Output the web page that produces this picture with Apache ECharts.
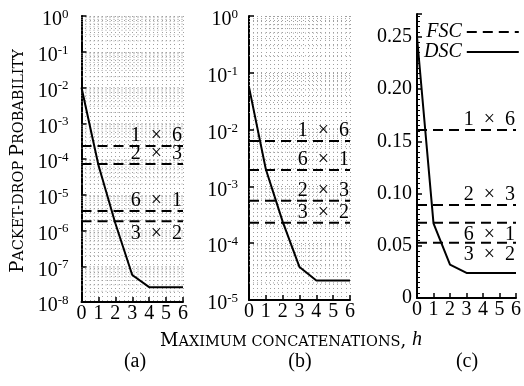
<!DOCTYPE html>
<html><head><meta charset="utf-8">
<script src="https://cdn.jsdelivr.net/npm/echarts@6/dist/echarts.min.js"></script>
<style>html,body{margin:0;padding:0;background:#fff}#c{width:524px;height:386px}</style>
</head><body><div id="c"></div>
<script>
// ---- data ----
const hops = [0, 1, 2, 3, 4, 5, 6];
const dscA = [1.0e-2, 6.8e-5, 1.6e-6, 5.7e-8, 2.6e-8, 2.6e-8, 2.6e-8];
const dscB = [5.6e-2, 2.0e-3, 2.4e-4, 3.8e-5, 2.2e-5, 2.2e-5, 2.2e-5];
const dscC = [0.25, 0.0715, 0.032, 0.024, 0.024, 0.024, 0.024];
const fscA = [2.3e-4, 7.2e-5, 3.5e-6, 1.8e-6];
const fscB = [6.3e-3, 1.94e-3, 5.6e-4, 2.3e-4];
const fscC = [0.161, 0.089, 0.072, 0.053];
const fscLabelsA = ['1 × 6', '2 × 3', '6 × 1', '3 × 2'];
const fscLabelsB = ['1 × 6', '6 × 1', '2 × 3', '3 × 2'];
const fscLabelsC = ['1 × 6', '2 × 3', '6 × 1', '3 × 2'];
const labelSideA = ['top', 'top', 'top', 'bottom'];
const labelSideB = ['top', 'top', 'top', 'top'];
const labelSideC = ['top', 'top', 'bottom', 'bottom'];
const xTicks = [0, 1, 2, 3, 4, 5, 6];

const SERIF = '"Liberation Serif", "Times New Roman", serif';
const TITLE = '"DejaVu Serif", serif';
const DOT = {type: [1, 3], color: '#a0a0a0', width: 1};

const chart = echarts.init(document.getElementById('c'), null, {renderer: 'canvas'});

const grids = [
  {left: 81.5, top: 16, width: 101.5, height: 286},
  {left: 249, top: 16, width: 101, height: 284},
  {left: 417, top: 14, width: 101.5, height: 284}
];

function xAxis(i) {
  return {
    type: 'value', gridIndex: i, min: xTicks[0], max: xTicks[xTicks.length - 1], interval: 1,
    axisLine: {lineStyle: {color: '#000', width: 2}},
    axisTick: {inside: true, length: 5, lineStyle: {color: '#000', width: 1.5}},
    axisLabel: {fontFamily: SERIF, fontSize: 20, color: '#000', margin: 2},
    splitLine: {show: i < 2, lineStyle: DOT},
    minorTick: {show: false, splitNumber: 4},
    minorSplitLine: {show: i < 2, lineStyle: DOT}
  };
}

function logY(i, min, margin) {
  return {
    type: 'log', logBase: 10, gridIndex: i, min: min, max: 1, interval: 1,
    axisLine: {show: true, lineStyle: {color: '#000', width: 2}},
    axisTick: {show: true, inside: true, length: 5, lineStyle: {color: '#000', width: 1.5}},
    splitLine: {show: true, lineStyle: DOT},
    axisLabel: {
      margin: margin, padding: [8, 0, 0, 0],
      formatter: v => '{b|10}{s|' + Math.round(Math.log10(v)) + '}',
      rich: {
        b: {fontFamily: SERIF, fontSize: 20, lineHeight: 24, color: '#000'},
        s: {fontFamily: SERIF, fontSize: 13, lineHeight: 13, verticalAlign: 'top', color: '#000'}
      }
    }
  };
}

// minor horizontal grid lines at 2..9 x 10^k (decoration only)
function gridSeries(i, minExp) {
  const d = [];
  for (let k = minExp; k < 0; k++) for (let m = 2; m <= 9; m++) {
    const v = m * Math.pow(10, k);
    d.push([xTicks[0], v], [xTicks[xTicks.length - 1], v], [xTicks[xTicks.length - 1], '-']);
  }
  return {
    type: 'line', xAxisIndex: i, yAxisIndex: i, data: d, silent: true, symbol: 'none',
    connectNulls: false, lineStyle: DOT, z: 1
  };
}

function fscSeries(i, vals, labels, sides) {
  return vals.map((v, k) => ({
    name: 'FSC', type: 'line', xAxisIndex: i, yAxisIndex: i, silent: true,
    symbol: 'circle', symbolSize: 0.1, showSymbol: true,
    itemStyle: {color: '#000'},
    lineStyle: {color: '#000', width: 2, type: [10, 6]}, z: 3,
    data: [
      [xTicks[0], v],
      {value: [xTicks[xTicks.length - 1], v],
        label: {show: true, formatter: labels[k].replace(/ /g, '  '), position: 'left', distance: 1,
          offset: [0, sides[k] === 'top' ? -10 : 12],
          fontFamily: SERIF, fontSize: 20, color: '#000'}}
    ]
  }));
}

function dscSeries(i, vals) {
  return {
    name: 'DSC', type: 'line', xAxisIndex: i, yAxisIndex: i, symbol: 'none',
    itemStyle: {color: '#000'},
    lineStyle: {color: '#000', width: 2}, z: 5,
    data: hops.map((h, k) => [h, vals[k]])
  };
}

const smallCaps = {
  B: {fontFamily: TITLE, fontSize: 18, lineHeight: 20, verticalAlign: 'bottom', color: '#000'},
  s: {fontFamily: TITLE, fontSize: 14.5, lineHeight: 17.9, verticalAlign: 'bottom', color: '#000'},
  i: {fontFamily: SERIF, fontSize: 20, fontStyle: 'italic', lineHeight: 20, verticalAlign: 'bottom', color: '#000'}
};

const option = {
  animation: false,
  backgroundColor: '#fff',
  grid: grids,
  xAxis: [xAxis(0), xAxis(1), xAxis(2)],
  yAxis: [
    logY(0, 1e-8, 13),
    logY(1, 1e-5, 11),
    {
      type: 'value', gridIndex: 2, min: 0, max: 0.272, interval: 0.05,
      axisLine: {show: true, lineStyle: {color: '#000', width: 2}},
      axisTick: {show: true, inside: true, length: 5, lineStyle: {color: '#000', width: 1.5}},
      minorTick: {show: true, splitNumber: 10, length: 3, lineStyle: {color: '#000', width: 1}},
      splitLine: {show: false},
      axisLabel: {
        fontFamily: SERIF, fontSize: 20, color: '#000', margin: 5, showMaxLabel: false,
        formatter: v => (Math.abs(v / 0.05 - Math.round(v / 0.05)) > 1e-6 ? '' : (v === 0 ? '0' : v.toFixed(2)))
      }
    }
  ],
  legend: {
    data: [
      {name: 'FSC', icon: 'path://M0,0h10v2h-10z M16,0h10v2h-10z M32,0h10v2h-10z M48,0h4v2h-4z'},
      {name: 'DSC', icon: 'path://M0,0h52v2h-52z'}
    ],
    orient: 'vertical', left: 419, top: 17, align: 'right',
    itemWidth: 52, itemHeight: 2, itemGap: 0, selectedMode: false,
    textStyle: {fontFamily: SERIF, fontStyle: 'italic', fontSize: 20, color: '#000', lineHeight: 20}
  },
  series: [
    gridSeries(0, -8), gridSeries(1, -5),
    ...fscSeries(0, fscA, fscLabelsA, labelSideA),
    ...fscSeries(1, fscB, fscLabelsB, labelSideB),
    ...fscSeries(2, fscC, fscLabelsC, labelSideC),
    dscSeries(0, dscA), dscSeries(1, dscB), dscSeries(2, dscC)
  ],
  graphic: [
    {type: 'text', x: 17, y: 161, rotation: Math.PI / 2,
      style: {text: '{B|P}{s|ACKET-DROP }{B|P}{s|ROBABILITY}', rich: smallCaps,
        align: 'center', verticalAlign: 'middle', textAlign: 'center', textVerticalAlign: 'middle'}},
    {type: 'text', x: 291, y: 340,
      style: {text: '{B|M}{s|AXIMUM CONCATENATIONS}{B|, }{i|h}', rich: smallCaps,
        align: 'center', verticalAlign: 'middle', textAlign: 'center', textVerticalAlign: 'middle'}},
    {type: 'text', x: 135, y: 362, style: {text: '(a)', font: '20px ' + SERIF, fill: '#000', align: 'center', verticalAlign: 'middle', textAlign: 'center', textVerticalAlign: 'middle'}},
    {type: 'text', x: 300, y: 362, style: {text: '(b)', font: '20px ' + SERIF, fill: '#000', align: 'center', verticalAlign: 'middle', textAlign: 'center', textVerticalAlign: 'middle'}},
    {type: 'text', x: 467, y: 362, style: {text: '(c)', font: '20px ' + SERIF, fill: '#000', align: 'center', verticalAlign: 'middle', textAlign: 'center', textVerticalAlign: 'middle'}}
  ]
};
chart.setOption(option);
</script>
</body></html>
